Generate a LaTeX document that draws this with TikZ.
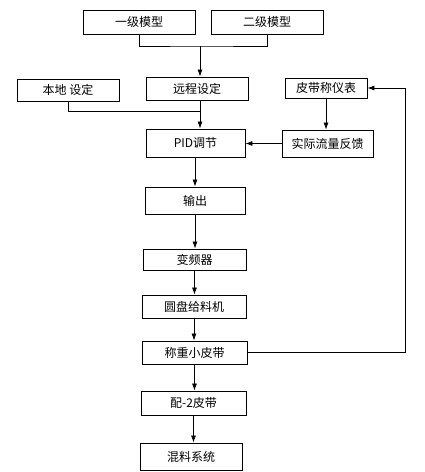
\documentclass[tikz,border=0pt]{standalone}
\usepackage{fontspec}
\setmainfont{Noto Sans CJK SC}
\usepackage{tikz}
\usetikzlibrary{arrows.meta}
\newcommand{\boxheight}{23pt}
\tikzstyle{block}=[draw, line width=0.9pt, inner sep=0, minimum height=\boxheight,
                   font=\fontsize{12}{14}\selectfont]
\tikzstyle{link}=[line width=0.7pt]
\tikzstyle{flow}=[link, -{Latex[length=7pt,width=5pt]}]

\begin{document}
\begin{tikzpicture}[x=1pt, y=-1pt]
        \useasboundingbox (0, 0) rectangle (424, 472);
        % models and set points
        \node[block, minimum width=112pt, minimum height=24pt] (model1) at (139, 22) {一级模型};
        \node[block, minimum width=112pt, minimum height=24pt] (model2) at (267, 22) {二级模型};
        \node[block, minimum width=102pt] (remote) at (197, 88.5) {远程设定};
        \node[block, minimum width=102pt, minimum height=22pt] (local) at (68, 90) {本地\ 设定};
        \node[block, minimum width=99pt, minimum height=28pt] (pid) at (195.5, 143) {PID调节};
        \node[block, minimum width=82pt, minimum height=20pt] (meter) at (326, 88) {皮带称仪表};
        \node[block, minimum width=91pt, minimum height=27pt] (feedback) at (327.5, 143.5) {实际流量反馈};
        % main chain
        \node[block, minimum width=100pt, minimum height=27pt] (output) at (195, 200.5) {输出};
        \node[block, minimum width=103pt, minimum height=21pt] (vfd) at (194.5, 259.5) {变频器};
        \node[block, minimum width=104pt] (feeder) at (194, 306.5) {圆盘给料机};
        \node[block, minimum width=105pt] (belt) at (194.5, 352.5) {称重小皮带};
        \node[block, minimum width=105pt, minimum height=24pt] (belt2) at (193.5, 403) {配-2皮带};
        \node[block, minimum width=102pt, minimum height=27pt] (mixer) at (191, 456.5) {混料系统};
        \coordinate (jtop) at (200, 46);
        \coordinate (jmid) at (200, 111);
        \coordinate (loop) at (405, 352.5);
        \draw[link] (model1.south) |- (jtop) -| (model2.south);
        \draw[flow] (jtop) -- (jtop |- remote.north);
        \draw[link] (local.south) |- (jmid);
        \draw[link] (remote.south -| jmid) -- (jmid);
        \draw[flow] (jmid) -- (jmid |- pid.north);
        \draw[flow] (meter.south) -- (meter.south |- feedback.north);
        \draw[flow] (feedback.west) -- (feedback.west -| pid.east);
        \draw[flow] (output.north |- pid.south) -- (output.north);
        \draw[flow] (output.south) -- (output.south |- vfd.north);
        \draw[flow] (vfd.south) -- (vfd.south |- feeder.north);
        \draw[flow] (feeder.south) -- (feeder.south |- belt.north);
        \draw[flow] (belt.south) -- (belt.south |- belt2.north);
        \draw[flow] (belt2.south) -- (belt2.south |- mixer.north);
        \draw[flow] (belt.east) -- (loop) |- (meter.east);
    \end{tikzpicture}
\end{document}
